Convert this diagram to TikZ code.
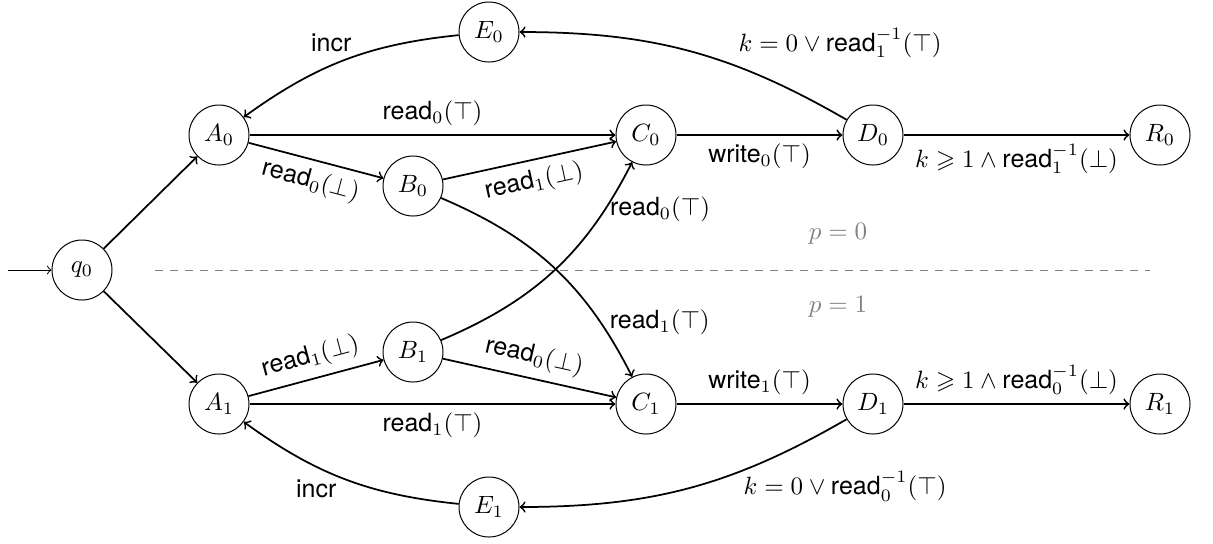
\documentclass[tikz,border=0pt]{standalone}
\usepackage{amssymb}
\usepackage{fontspec}
\setmainfont{Liberation Serif}
\setsansfont{TeX Gyre Heros}
\newcommand{\opread}{\textsf{read}}
\newcommand{\opwrite}{\textsf{write}}
\newcommand{\opincr}{\textsf{incr}}
\begin{document}
\begin{tikzpicture}[x=0.4pt,y=-0.4pt,
  state/.style={circle,draw,thin,minimum size=24pt,inner sep=0pt},
  trans/.style={->,line width=0.7pt},
  region/.style={text=gray},
  separator/.style={dashed,gray}]
\useasboundingbox (0,0) rectangle (1213,543);

% states
\node[state] (q0) at (82,270)  {$q_0$};
\node[state] (A0) at (219,135) {$A_0$};
\node[state] (B0) at (413,186) {$B_0$};
\node[state] (C0) at (646,135) {$C_0$};
\node[state] (D0) at (873,135) {$D_0$};
\node[state] (R0) at (1160,135) {$R_0$};
\node[state] (E0) at (489,32)  {$E_0$};
\node[state] (A1) at (219,404) {$A_1$};
\node[state] (B1) at (413,352) {$B_1$};
\node[state] (C1) at (646,404) {$C_1$};
\node[state] (D1) at (873,404) {$D_1$};
\node[state] (R1) at (1160,404) {$R_1$};
\node[state] (E1) at (489,507) {$E_1$};

% initial arrow
\coordinate (init) at (8,270);
\draw[->,thin] (init) -- (q0);

% separation between the two processes
\coordinate (sepL) at (155,270);
\coordinate (sepR) at (1150,270);
\draw[separator] (sepL) -- (sepR);
\node[region] (p0) at (838,234) {$p = 0$};
\node[region] (p1) at (838,307) {$p = 1$};

% transitions
\draw[trans] (q0) -- (A0);
\draw[trans] (q0) -- (A1);

\draw[trans] (A0) -- node[above] {$\opread_0(\top)$} (C0);
\draw[trans] (A0) -- node[below,sloped] {$\opread_0(\bot)$} (B0);
\draw[trans] (B0) -- node[below,sloped] {$\opread_1(\bot)$} (C0);
\draw[trans] (B1) to[bend right=20] node[pos=0.8,anchor=west,xshift=-1pt,yshift=1pt] {$\opread_0(\top)$} (C0);
\draw[trans] (B0) to[bend left=20] node[pos=0.78,anchor=west] {$\opread_1(\top)$} (C1);

\draw[trans] (A1) -- node[above,sloped] {$\opread_1(\bot)$} (B1);
\draw[trans] (B1) -- node[above,sloped] {$\opread_0(\bot)$} (C1);
\draw[trans] (A1) -- node[below] {$\opread_1(\top)$} (C1);

\draw[trans] (C0) -- node[below] {$\opwrite_0(\top)$} (D0);
\draw[trans] (C1) -- node[above] {$\opwrite_1(\top)$} (D1);

\draw[trans] (D0) -- node[below] {$k \geqslant 1 \wedge \opread_1^{-1}(\bot)$} (R0);
\draw[trans] (D1) -- node[above] {$k \geqslant 1 \wedge \opread_0^{-1}(\bot)$} (R1);

\draw[trans] (D0) to[bend right=15] node[pos=0.32,anchor=south west,xshift=-6pt,yshift=1pt] {$k = 0 \vee \opread_1^{-1}(\top)$} (E0);
\draw[trans] (D1) to[bend left=15] node[pos=0.32,anchor=north west,xshift=-4pt,yshift=3pt] {$k = 0 \vee \opread_0^{-1}(\top)$} (E1);

\draw[trans] (E0) to[bend right=15] node[pos=0.55,above,xshift=-1.5pt,yshift=1pt] {\opincr} (A0);
\draw[trans] (E1) to[bend left=15] node[pos=0.6,below,xshift=-3.5pt] {\opincr} (A1);
\end{tikzpicture}
\end{document}
